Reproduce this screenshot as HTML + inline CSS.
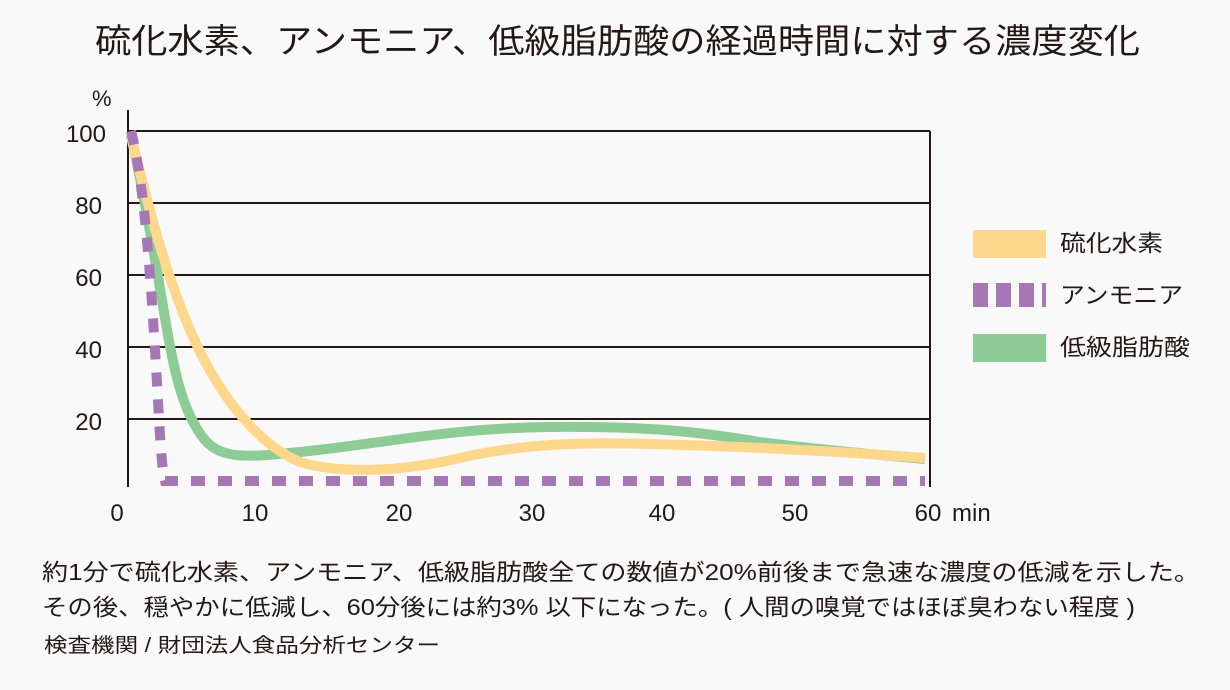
<!DOCTYPE html>
<html><head><meta charset="utf-8"><style>
body{margin:0;background:#f9f9f9;}
svg{display:block}
text{font-family:"Liberation Sans","Noto Sans CJK JP",sans-serif;fill:#231815}
</style></head><body>
<svg width="1230" height="690" viewBox="0 0 1230 690">
<rect width="1230" height="690" fill="#f9f9f9"/>
<text x="95" y="53" font-size="34" textLength="1045" lengthAdjust="spacingAndGlyphs">硫化水素、アンモニア、低級脂肪酸の経過時間に対する濃度変化</text>
<text x="92" y="106" font-size="22">%</text>
<g stroke="#231815" stroke-width="2">
<line x1="128" y1="110" x2="128" y2="487"/>
<line x1="930" y1="131" x2="930" y2="487"/>
<line x1="128" y1="131" x2="930" y2="131"/>
<line x1="128" y1="203" x2="930" y2="203"/>
<line x1="128" y1="275" x2="930" y2="275"/>
<line x1="128" y1="347" x2="930" y2="347"/>
<line x1="128" y1="419" x2="930" y2="419"/>
</g>
<g font-size="24" text-anchor="end">
<text x="106" y="142">100</text><text x="102" y="214">80</text><text x="102" y="286">60</text><text x="102" y="358">40</text><text x="102" y="430">20</text>
</g>
<g font-size="24" text-anchor="middle">
<text x="117" y="521">0</text><text x="255" y="521">10</text><text x="399" y="521">20</text><text x="532" y="521">30</text><text x="662" y="521">40</text><text x="795" y="521">50</text><text x="928" y="521">60</text>
</g>
<text x="952" y="521" font-size="24">min</text>
<path d="M131,135 C140,175 150,230 162,300 C172,360 180,410 205,440 C222,460 250,457 300,452 C380,444 450,428 550,427 C650,426 700,432 760,442 C820,450 880,455 925,459" fill="none" stroke="#8dcc97" stroke-width="10"/>
<path d="M131,137 C145,190 160,260 190,330 C220,400 260,445 300,462 C340,474 400,472 460,458 C520,444 580,442 650,444 C730,446 820,450 925,458" fill="none" stroke="#fdd78c" stroke-width="10"/>
<path d="M131,131 C146,190 152,300 158,400 C160,440 162,470 165,481 L925,481" fill="none" stroke="#a577b5" stroke-width="10" stroke-dasharray="14 13"/>
<rect x="973" y="230" width="73" height="28" fill="#fdd78c"/>
<g fill="#a577b5"><rect x="973" y="283" width="15" height="24"/><rect x="996" y="283" width="15" height="24"/><rect x="1019" y="283" width="15" height="24"/><rect x="1042" y="283" width="4" height="24"/></g>
<rect x="973" y="334" width="73" height="28" fill="#8dcc97"/>
<g font-size="23">
<text x="1060" y="251" textLength="103" lengthAdjust="spacingAndGlyphs">硫化水素</text>
<text x="1060" y="303" textLength="123" lengthAdjust="spacingAndGlyphs">アンモニア</text>
<text x="1060" y="355" textLength="130" lengthAdjust="spacingAndGlyphs">低級脂肪酸</text>
</g>
<g font-size="23">
<text x="42" y="580" textLength="1158" lengthAdjust="spacingAndGlyphs">約1分で硫化水素、アンモニア、低級脂肪酸全ての数値が20%前後まで急速な濃度の低減を示した。</text>
<text x="42" y="615" textLength="1093" lengthAdjust="spacingAndGlyphs">その後、穏やかに低減し、60分後には約3% 以下になった。( 人間の嗅覚ではほぼ臭わない程度 )</text>
</g>
<text x="44" y="652" font-size="20" textLength="396" lengthAdjust="spacingAndGlyphs">検査機関 / 財団法人食品分析センター</text>
</svg>
</body></html>
